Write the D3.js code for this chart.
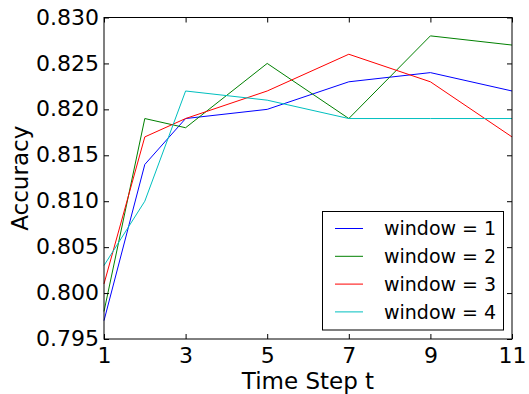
<!DOCTYPE html>
<html>
<head>
<meta charset="utf-8">
<script src="https://cdn.jsdelivr.net/npm/d3@7"></script>
<style>
  html, body { margin: 0; padding: 0; background: #fff; }
  svg { display: block; font-family: "DejaVu Sans", sans-serif; }
</style>
</head>
<body>
<svg id="chart" width="529" height="394"></svg>
<script>
// Time steps at which accuracy was measured
const timeSteps = [1, 2, 3, 5, 7, 9, 11];
const window1 = [0.797, 0.814, 0.819, 0.820, 0.823, 0.824, 0.822];
const window2 = [0.798, 0.819, 0.818, 0.825, 0.819, 0.828, 0.827];
const window3 = [0.801, 0.817, 0.819, 0.822, 0.826, 0.823, 0.817];
const window4 = [0.803, 0.810, 0.822, 0.821, 0.819, 0.819, 0.819];
const seriesNames = ["window = 1", "window = 2", "window = 3", "window = 4"];
const seriesColors = ["#0000ff", "#008000", "#ff0000", "#00bfbf"];
const xTicks = [1, 3, 5, 7, 9, 11];
const yTicks = [0.795, 0.800, 0.805, 0.810, 0.815, 0.820, 0.825, 0.830];

const allSeries = [window1, window2, window3, window4];

const svg = d3.select("#chart");
const margin = { left: 104, right: 17, top: 17.5, bottom: 55 };
const W = 529, H = 394;
const x = d3.scaleLinear().domain([1, 11]).range([margin.left, W - margin.right]);
const y = d3.scaleLinear().domain([0.795, 0.830]).range([H - margin.bottom, margin.top]);

const fs = 22;

// Series lines
const line = d3.line().x((d, i) => x(timeSteps[i])).y(d => y(d));
const plot = svg.append("g");
allSeries.forEach((s, k) => {
  plot.append("path")
    .datum(s)
    .attr("d", line)
    .attr("fill", "none")
    .attr("stroke", seriesColors[k])
    .attr("stroke-width", 1);
});

// Axes with inward ticks on all four sides
const axB = d3.axisBottom(x).tickValues(xTicks).tickSizeInner(-5).tickSizeOuter(0).tickPadding(8).tickFormat(d3.format("d"));
const axT = d3.axisTop(x).tickValues(xTicks).tickSizeInner(-5).tickSizeOuter(0).tickFormat("");
const axL = d3.axisLeft(y).tickValues(yTicks).tickSizeInner(-5).tickSizeOuter(0).tickPadding(5).tickFormat(d3.format(".3f"));
const axR = d3.axisRight(y).tickValues(yTicks).tickSizeInner(-5).tickSizeOuter(0).tickFormat("");

function style(g) {
  g.select(".domain").remove();
  g.selectAll(".tick line").attr("stroke", "#000").attr("stroke-width", 1);
  g.selectAll(".tick text").attr("fill", "#000").attr("font-size", fs).attr("font-family", "DejaVu Sans, sans-serif");
}
svg.append("g").attr("transform", `translate(0,${H - margin.bottom})`).call(axB).call(style)
  .selectAll(".tick text").attr("dy", "0.72em");
svg.append("g").attr("transform", `translate(0,${margin.top})`).call(axT).call(style);
svg.append("g").attr("transform", `translate(${margin.left},0)`).call(axL).call(style)
  .selectAll(".tick text").attr("dy", "0.3em");
svg.append("g").attr("transform", `translate(${W - margin.right},0)`).call(axR).call(style);

// Frame
svg.append("rect")
  .attr("x", margin.left).attr("y", margin.top)
  .attr("width", W - margin.right - margin.left)
  .attr("height", H - margin.bottom - margin.top)
  .attr("fill", "none").attr("stroke", "#000").attr("stroke-width", 1);

// Axis titles
svg.append("text")
  .attr("x", (margin.left + W - margin.right) / 2)
  .attr("y", 389)
  .attr("text-anchor", "middle")
  .attr("font-size", 23)
  .text("Time Step t");
svg.append("text")
  .attr("transform", `translate(28,${(margin.top + H - margin.bottom) / 2}) rotate(-90)`)
  .attr("text-anchor", "middle")
  .attr("font-size", 23)
  .text("Accuracy");

// Legend
const lg = svg.append("g");
lg.append("rect")
  .attr("x", 322.5).attr("y", 211.5).attr("width", 181).attr("height", 118.5)
  .attr("fill", "#fff").attr("stroke", "#000").attr("stroke-width", 1);
seriesNames.forEach((name, k) => {
  const yy = 228.5 + k * 27.8;
  lg.append("line")
    .attr("x1", 335).attr("x2", 363).attr("y1", yy).attr("y2", yy)
    .attr("stroke", seriesColors[k]).attr("stroke-width", 1);
  lg.append("text")
    .attr("x", 384).attr("y", yy).attr("dy", "0.36em")
    .attr("font-size", 19)
    .text(name);
});
</script>
</body>
</html>
